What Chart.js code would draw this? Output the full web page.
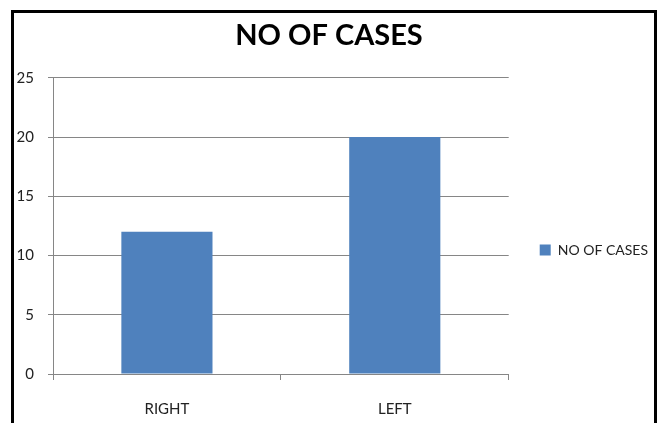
<!DOCTYPE html>
<html>
<head>
<meta charset="utf-8">
<script src="https://cdn.jsdelivr.net/npm/chart.js@4.4.1/dist/chart.umd.min.js"></script>
<style>
  html, body { margin: 0; padding: 0; background: #fff; overflow: hidden; width: 663px; height: 423px; }
  #wrap { position: absolute; left: 0; top: 0; width: 663px; height: 500px; }
  #frame {
    position: absolute; left: 11px; top: 10px; width: 640px; height: 520px;
    border: 3px solid #000; border-bottom: none; pointer-events: none;
  }
</style>
</head>
<body>
<div id="wrap"><canvas id="chart" width="663" height="500"></canvas></div>
<div id="frame"></div>
<script>
// Number of cases by side
const categories = ['RIGHT', 'LEFT'];
const caseCounts = [12, 20];
const seriesName = 'NO OF CASES';
const yTicks = [0, 5, 10, 15, 20, 25];

const gridGrey = '#868686';
const textColor = '#222222';
const fontFamily = 'Lato, "Open Sans", "Liberation Sans", sans-serif';

new Chart(document.getElementById('chart'), {
  type: 'bar',
  data: {
    labels: categories,
    datasets: [{
      label: seriesName,
      data: caseCounts,
      backgroundColor: '#4F81BD',
      borderWidth: 0,
      categoryPercentage: 1.0,
      barPercentage: 0.4
    }]
  },
  options: {
    responsive: false,
    devicePixelRatio: 1,
    animation: false,
    layout: { padding: { left: 0, right: 5, top: 0, bottom: 0 } },
    plugins: {
      title: {
        display: true,
        text: seriesName,
        color: '#000',
        font: { family: fontFamily, size: 29, weight: 'bold' },
        padding: { top: 18, bottom: 25 }
      },
      legend: {
        display: true,
        position: 'right',
        align: 'center',
        labels: {
          boxWidth: 11,
          boxHeight: 11,
          padding: 31,
          color: textColor,
          font: { family: fontFamily, size: 14 }
        }
      },
      tooltip: { enabled: false }
    },
    scales: {
      x: {
        grid: {
          offset: true,
          drawOnChartArea: false,
          drawTicks: true,
          tickLength: 6,
          color: gridGrey
        },
        border: { display: true, color: gridGrey, width: 1 },
        ticks: {
          color: textColor,
          padding: 20,
          font: { family: fontFamily, size: 15 }
        },
        afterFit: (scale) => { scale.height = 126; }
      },
      y: {
        min: 0,
        max: 25,
        afterBuildTicks: (scale) => { scale.ticks = yTicks.map(v => ({ value: v })); },
        grid: {
          color: gridGrey,
          lineWidth: 1,
          tickLength: 5,
          drawTicks: true
        },
        border: { display: true, color: gridGrey, width: 1 },
        ticks: {
          color: textColor,
          padding: 14,
          font: { family: fontFamily, size: 15 }
        },
        afterFit: (scale) => { scale.width = 53; }
      }
    }
  }
});
</script>
</body>
</html>
